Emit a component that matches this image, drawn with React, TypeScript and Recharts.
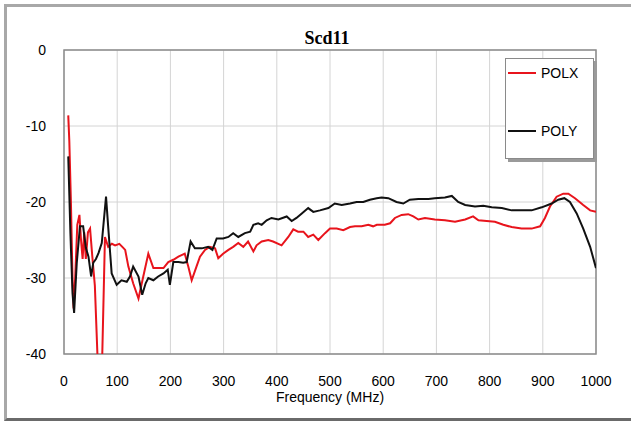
import React from 'react';
import { LineChart, Line, XAxis, YAxis, CartesianGrid, ReferenceArea, Legend } from 'recharts';

const chartTitle = 'Scd11';
const xAxisTitle = 'Frequency (MHz)';
const xTicks = [0, 100, 200, 300, 400, 500, 600, 700, 800, 900, 1000];
const yTicks = [-40, -30, -20, -10, 0];
const seriesNames = ['POLX', 'POLY'];
const seriesColors = ['#e8141c', '#111111'];

const polxFreq = [8, 10, 13, 16, 18, 21, 25, 29, 32, 35, 38, 41, 45, 49, 53, 58, 66, 70, 77, 83, 90, 96, 104, 111, 115, 121, 130, 140, 149, 158.5, 168, 177, 187, 196, 205.5, 215, 227, 233.6, 240, 249, 255.6, 265, 274, 284, 290, 299, 309, 318, 327.6, 337, 346, 356, 362, 371.6, 384, 393, 409, 421.6, 431, 440, 450, 459, 468.6, 478, 490.6, 500, 512.6, 525, 537.6, 547, 559.6, 572, 581, 588, 603, 613, 622, 634.6, 647, 656.6, 666, 678.6, 697, 716, 735, 754, 769, 779, 794.5, 810, 825.8, 841.5, 860, 879, 895, 904, 913.5, 926, 938.5, 948, 960.5, 976, 989, 1000];
const polxDb = [-8.6, -12, -20, -30, -34, -30, -23, -21.7, -25, -27.5, -24, -27.5, -24, -23.5, -27, -31, -46, -46, -24.6, -25.9, -25.5, -25.7, -25.5, -26, -26.3, -28.5, -30.7, -32.7, -29.8, -26.8, -28.7, -28.7, -28.7, -27.9, -27.6, -27.2, -26.8, -28.5, -30.3, -28.5, -27.2, -26.3, -25.9, -26.1, -27.4, -26.8, -26.3, -25.9, -25.4, -25.9, -25.2, -26.5, -25.7, -25.2, -25, -25.2, -25.7, -24.6, -23.6, -23.9, -23.9, -24.6, -24.3, -25, -24.1, -23.5, -23.5, -23.7, -23.3, -23.2, -23.2, -23, -23.2, -23, -23, -22.8, -22.1, -21.7, -21.6, -21.9, -22.3, -22.1, -22.3, -22.4, -22.6, -22.3, -21.9, -22.4, -22.5, -22.6, -23, -23.3, -23.5, -23.5, -23.2, -22.1, -20.6, -19.3, -18.9, -18.9, -19.5, -20.4, -21.1, -21.3];

const polyFreq = [8, 12, 16, 19, 24, 30, 36, 41, 46, 51, 55, 60, 65, 71, 79, 83, 89.6, 99, 108, 118, 124, 130, 140, 147, 153.5, 158.5, 168, 177, 187, 195, 199, 205.5, 215, 224, 230.6, 238, 246, 259, 271, 279, 287, 299, 309, 318, 327.6, 340, 350, 356, 365, 371.6, 381, 390, 403, 418.6, 428, 437, 447, 459, 468.6, 481, 497, 509, 522, 537.6, 550, 562.6, 575, 587.8, 597, 609.6, 625, 637.8, 650, 666, 685, 697, 716, 729, 741, 754, 772.6, 788, 804, 823, 841.5, 860, 879, 898, 916.7, 929, 940.5, 951, 963.7, 976, 989, 1000];
const polyDb = [-14, -24, -32, -34.6, -28, -23.2, -23.2, -26, -27.2, -29.8, -28, -27.5, -26.7, -25.4, -19.3, -23.2, -29.4, -30.9, -30.3, -30.5, -29.8, -28.5, -29.8, -32.2, -30.7, -30, -30.3, -29.8, -29.4, -28.9, -30.9, -27.9, -27.9, -28, -27.9, -25.2, -26.1, -26.1, -25.9, -26.3, -24.8, -24.8, -24.6, -24.1, -24.6, -24.1, -23.9, -23, -22.8, -23, -22.4, -22.1, -22.3, -21.9, -22.5, -22.1, -21.5, -20.8, -21.3, -21.1, -20.8, -20.2, -20.4, -20.2, -20, -20, -19.7, -19.5, -19.4, -19.5, -20, -20.2, -19.7, -19.6, -19.6, -19.5, -19.4, -19.2, -20, -20.4, -20.6, -20.5, -20.7, -20.8, -21.1, -21.1, -21.1, -20.7, -20.2, -19.7, -19.5, -20, -21.5, -23.5, -25.9, -28.7];

const polxData = polxFreq.map((f, i) => ({ f, v: polxDb[i] }));
const polyData = polyFreq.map((f, i) => ({ f, v: polyDb[i] }));
const seriesData = [polxData, polyData];

const FONT = '"Liberation Sans", Arial, sans-serif';

const renderLegend = () => (
  <div
    style={{
      width: 89,
      height: 101,
      boxSizing: 'border-box',
      border: '1px solid #8a8a8a',
      background: '#fff',
      boxShadow: '3px 3px 0 #9a9a9a',
      position: 'relative',
      fontFamily: FONT,
      fontSize: 14,
      color: '#000',
    }}
  >
    {seriesNames.map((n, i) => (
      <div
        key={n}
        style={{ position: 'absolute', left: 2, top: i === 0 ? 6 : 64, height: 16, display: 'flex', alignItems: 'center' }}
      >
        <span style={{ display: 'inline-block', width: 28, height: 2, background: seriesColors[i], marginRight: 5 }} />
        <span>{n}</span>
      </div>
    ))}
  </div>
);

export default function App() {
  return (
    <div style={{ position: 'absolute', left: 0, top: 0, width: 631, height: 425, background: '#fff', overflow: 'hidden' }}>
      <div
        style={{
          position: 'absolute',
          left: 4,
          top: 4,
          width: 660,
          height: 411,
          borderTop: '3px solid #a8a8a8',
          borderLeft: '3px solid #a8a8a8',
          borderBottom: '3px solid #6a6a6a',
          background: '#fff',
        }}
      />
      <div
        style={{
          position: 'absolute',
          left: 277,
          top: 28,
          width: 100,
          textAlign: 'center',
          fontFamily: '"Liberation Serif", "Times New Roman", serif',
          fontWeight: 'bold',
          fontSize: 18,
          lineHeight: '20px',
          color: '#000',
        }}
      >
        {chartTitle}
      </div>
      <div style={{ position: 'absolute', left: 0, top: 0 }}>
        <LineChart width={631} height={425} margin={{ top: 50, right: 35, left: 14, bottom: 41 }}>
          <CartesianGrid stroke="#d4d4d4" strokeWidth={1} />
          <XAxis
            type="number"
            dataKey="f"
            domain={[0, 1000]}
            ticks={xTicks}
            allowDataOverflow
            height={30}
            axisLine={false}
            tickLine={false}
            tickSize={0}
            tickMargin={22}
            tick={{ fill: '#000', fontSize: 14, fontFamily: FONT }}
            label={{ value: xAxisTitle, position: 'bottom', offset: 8, fill: '#000', fontSize: 14, fontFamily: FONT }}
          />
          <YAxis
            type="number"
            domain={[-40, 0]}
            ticks={yTicks}
            allowDataOverflow
            width={50}
            axisLine={false}
            tickLine={false}
            tickSize={0}
            tickMargin={18}
            tick={{ fill: '#000', fontSize: 14, fontFamily: FONT }}
          />
          <ReferenceArea x1={0} x2={1000} y1={-40} y2={0} fill="none" stroke="#8c8c8c" strokeWidth={1.5} ifOverflow="visible" />
          {seriesNames.map((n, i) => (
            <Line
              key={n}
              name={n}
              data={seriesData[i]}
              dataKey="v"
              type="linear"
              stroke={seriesColors[i]}
              strokeWidth={2}
              dot={false}
              activeDot={false}
              isAnimationActive={false}
            />
          ))}
          <Legend
            layout="vertical"
            align="center"
            verticalAlign="middle"
            content={renderLegend}
            wrapperStyle={{ left: 505, top: 58, width: 92, height: 104 }}
          />
        </LineChart>
      </div>
    </div>
  );
}
